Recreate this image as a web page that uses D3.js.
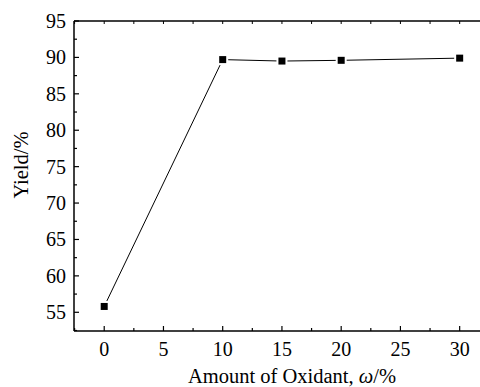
<!DOCTYPE html>
<html>
<head>
<meta charset="utf-8">
<script src="https://cdn.jsdelivr.net/npm/d3@7"></script>
<style>
  body { margin: 0; background: #fff; }
  svg { display: block; font-family: "Liberation Serif", "Times New Roman", serif; }
  .tick-lbl { font-size: 20px; fill: #000; }
  .ax-title { font-size: 20.5px; fill: #000; }
</style>
</head>
<body>
<div id="chart"></div>
<script>
const SVG_W = 480;
const SVG_H = 387;
const LEFT = 74, RIGHT = 481, TOP = 21, BOTTOM = 331;
const MAJOR = 5, MINOR = 3;

// data
var oxidant = [0, 10, 15, 20, 30];
var yieldPct = [55.8, 89.7, 89.5, 89.6, 89.9];
var xTicks = [0, 5, 10, 15, 20, 25, 30];
var yTicks = [55, 60, 65, 70, 75, 80, 85, 90, 95];

var x = d3.scaleLinear().domain([-2.55, 31.8]).range([LEFT, RIGHT]);
var y = d3.scaleLinear().domain([52.43, 95]).range([BOTTOM, TOP]);

var xMinor = d3.range(-2.5, 31.8, 2.5).filter(v => v > -2.55 && xTicks.indexOf(v) < 0);
var yMinor = d3.range(52.5, 95, 2.5).filter(v => yTicks.indexOf(v) < 0);

var svg = d3.select("#chart").append("svg")
  .attr("width", SVG_W)
  .attr("height", SVG_H)

// bottom axis
var bottomAx = svg.append("g").attr("transform", "translate(0," + BOTTOM + ")");
bottomAx.append("line")
  .attr("x1", LEFT).attr("x2", RIGHT)
  .attr("stroke", "#000").attr("stroke-width", 1.5)
bottomAx.selectAll("line.maj")
  .data(xTicks).enter().append("line")
  .attr("class", "maj")
  .attr("x1", d => x(d)).attr("x2", d => x(d))
  .attr("y1", 0).attr("y2", -MAJOR)
  .attr("stroke", "#000").attr("stroke-width", 1.2)
bottomAx.selectAll("line.min")
  .data(xMinor).enter().append("line")
  .attr("class", "min")
  .attr("x1", d => x(d)).attr("x2", d => x(d))
  .attr("y1", 0).attr("y2", -MINOR)
  .attr("stroke", "#000").attr("stroke-width", 1.2)
bottomAx.selectAll("text")
  .data(xTicks).enter().append("text")
  .attr("class", "tick-lbl")
  .attr("x", d => x(d)).attr("y", 25)
  .attr("text-anchor", "middle")
  .text(d => d)

// top axis
var topAx = svg.append("g").attr("transform", "translate(0," + TOP + ")");
topAx.append("line")
  .attr("x1", LEFT).attr("x2", RIGHT)
  .attr("stroke", "#000").attr("stroke-width", 1.5)
topAx.selectAll("line.t")
  .data(xTicks.concat(xMinor)).enter().append("line")
  .attr("class", "t")
  .attr("x1", d => x(d)).attr("x2", d => x(d))
  .attr("y1", 0).attr("y2", MINOR)
  .attr("stroke", "#000").attr("stroke-width", 1)

// left axis
var leftAx = svg.append("g").attr("transform", "translate(" + LEFT + ",0)");
leftAx.append("line")
  .attr("y1", TOP).attr("y2", BOTTOM)
  .attr("stroke", "#000").attr("stroke-width", 1.5)
leftAx.selectAll("line.maj")
  .data(yTicks).enter().append("line")
  .attr("class", "maj")
  .attr("y1", d => y(d)).attr("y2", d => y(d))
  .attr("x1", 0).attr("x2", MAJOR)
  .attr("stroke", "#000").attr("stroke-width", 1.2)
leftAx.selectAll("line.min")
  .data(yMinor).enter().append("line")
  .attr("class", "min")
  .attr("y1", d => y(d)).attr("y2", d => y(d))
  .attr("x1", 0).attr("x2", MINOR)
  .attr("stroke", "#000").attr("stroke-width", 1.2)
leftAx.selectAll("text")
  .data(yTicks).enter().append("text")
  .attr("class", "tick-lbl")
  .attr("x", -8).attr("y", d => y(d))
  .attr("dy", "0.35em")
  .attr("text-anchor", "end")
  .text(d => d)

// titles
var xt = svg.append("text")
  .attr("class", "ax-title")
  .attr("x", 292).attr("y", 383)
  .attr("text-anchor", "middle")
xt.append("tspan").text("Amount of Oxidant, ")
xt.append("tspan").attr("font-style", "italic").text("ω")
xt.append("tspan").text("/%")

svg.append("text")
  .attr("class", "ax-title")
  .attr("transform", "translate(28,165) rotate(-90)")
  .attr("text-anchor", "middle")
  .text("Yield/%")

// series
var pts = oxidant.map((d, i) => [d, yieldPct[i]]);
svg.append("path")
  .datum(pts)
  .attr("fill", "none")
  .attr("stroke", "#000")
  .attr("stroke-width", 1)
  .attr("d", d3.line().x(d => x(d[0])).y(d => y(d[1])))

svg.selectAll("rect.pt")
  .data(pts).enter().append("rect")
  .attr("class", "pt")
  .attr("x", d => x(d[0]) - 4.5).attr("y", d => y(d[1]) - 4.5)
  .attr("width", 9).attr("height", 9)
  .attr("fill", "#000")
  .attr("stroke", "#fff")
  .attr("stroke-width", 2)
</script>
</body>
</html>
